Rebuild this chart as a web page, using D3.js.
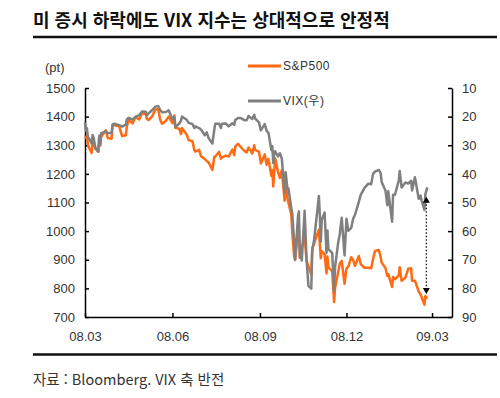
<!DOCTYPE html>
<html lang="ko">
<head>
    <meta charset="UTF-8">
    <title>VIX vs S&P500</title>
    <script src="https://cdn.jsdelivr.net/npm/d3@7"></script>
    <style>
        body { margin: 0; background: #fff; }
        svg { display: block; }
        .axis text { font: 13px "Liberation Sans", Arial, sans-serif; fill: #333; }
        .axis path, .axis line { stroke: #000; stroke-width: 1.5; }
    </style>
</head>
<body>
    <div id="chart"></div>
    <script>
        var width = 500, height = 398;
        var margin = { top: 88, right: 48, bottom: 81, left: 85 };

        // 날짜 / S&P500 / VIX
        var dates = ["2008-03-03", "2008-03-04", "2008-03-05", "2008-03-06", "2008-03-07", "2008-03-10", "2008-03-11", "2008-03-12", "2008-03-14",
            "2008-03-17", "2008-03-18", "2008-03-19", "2008-03-20", "2008-03-25", "2008-03-27", "2008-03-31", "2008-04-01", "2008-04-03",
            "2008-04-08", "2008-04-11", "2008-04-15", "2008-04-16", "2008-04-18", "2008-04-22", "2008-04-25", "2008-04-29", "2008-05-02",
            "2008-05-06", "2008-05-07", "2008-05-09", "2008-05-13", "2008-05-16", "2008-05-19", "2008-05-21", "2008-05-23", "2008-05-27",
            "2008-05-30", "2008-06-03", "2008-06-05", "2008-06-06", "2008-06-10", "2008-06-12", "2008-06-13", "2008-06-18", "2008-06-20",
            "2008-06-24", "2008-06-26", "2008-06-27", "2008-07-01", "2008-07-03", "2008-07-07", "2008-07-09", "2008-07-11", "2008-07-15",
            "2008-07-17", "2008-07-18", "2008-07-22", "2008-07-24", "2008-07-25", "2008-07-29", "2008-08-01", "2008-08-05", "2008-08-07",
            "2008-08-08", "2008-08-11", "2008-08-14", "2008-08-18", "2008-08-20", "2008-08-22", "2008-08-26", "2008-08-28", "2008-08-29",
            "2008-09-02", "2008-09-04", "2008-09-08", "2008-09-10", "2008-09-12", "2008-09-15", "2008-09-16", "2008-09-17", "2008-09-18",
            "2008-09-19", "2008-09-22", "2008-09-24", "2008-09-26", "2008-09-29", "2008-09-30", "2008-10-02", "2008-10-03", "2008-10-06",
            "2008-10-07", "2008-10-09", "2008-10-10", "2008-10-13", "2008-10-14", "2008-10-15", "2008-10-16", "2008-10-17", "2008-10-20",
            "2008-10-22", "2008-10-24", "2008-10-27", "2008-10-28", "2008-10-30", "2008-10-31", "2008-11-04", "2008-11-05", "2008-11-06",
            "2008-11-07", "2008-11-10", "2008-11-12", "2008-11-13", "2008-11-14", "2008-11-18", "2008-11-19", "2008-11-20", "2008-11-21",
            "2008-11-24", "2008-11-26", "2008-11-28", "2008-12-01", "2008-12-03", "2008-12-05", "2008-12-08", "2008-12-10", "2008-12-12",
            "2008-12-16", "2008-12-18", "2008-12-22", "2008-12-26", "2008-12-29", "2008-12-31", "2009-01-02", "2009-01-06", "2009-01-08",
            "2009-01-09", "2009-01-13", "2009-01-15", "2009-01-16", "2009-01-20", "2009-01-21", "2009-01-23", "2009-01-27", "2009-01-28",
            "2009-01-30", "2009-02-03", "2009-02-06", "2009-02-09", "2009-02-10", "2009-02-13", "2009-02-17", "2009-02-19", "2009-02-20",
            "2009-02-23", "2009-02-24", "2009-02-26"];

        var spx = [1331, 1326, 1333, 1304, 1293, 1273, 1321, 1308, 1288,
            1277, 1330, 1299, 1330, 1352, 1325, 1323, 1370, 1370,
            1366, 1332, 1335, 1365, 1390, 1376, 1398, 1390, 1413,
            1408, 1393, 1388, 1403, 1425, 1426, 1391, 1375, 1385,
            1400, 1377, 1404, 1361, 1358, 1339, 1360, 1337, 1318,
            1314, 1283, 1278, 1284, 1262, 1252, 1245, 1240, 1214,
            1260, 1260, 1277, 1253, 1257, 1264, 1260, 1285, 1266,
            1296, 1305, 1293, 1279, 1275, 1292, 1271, 1300, 1283,
            1278, 1236, 1268, 1232, 1252, 1193, 1214, 1156, 1207,
            1255, 1207, 1186, 1213, 1106, 1166, 1114, 1099, 1057,
            996, 910, 899, 1003, 998, 908, 946, 940, 986,
            896, 877, 848, 941, 954, 968, 1005, 953, 905,
            930, 920, 852, 911, 873, 859, 807, 752, 800,
            852, 887, 896, 816, 870, 876, 909, 899, 879,
            913, 885, 872, 872, 870, 903, 931, 934, 909,
            890, 871, 843, 850, 805, 840, 832, 845, 874,
            826, 838, 869, 870, 827, 827, 789, 778, 770,
            743, 773, 765];

        var vix = [22.0, 25.0, 24.0, 27.0, 27.5, 29.4, 26.4, 27.3, 31.0,
            32.2, 26.7, 29.8, 25.8, 25.2, 25.8, 25.6, 22.7, 22.5,
            23.0, 23.5, 22.8, 21.0, 20.4, 21.0, 20.1, 19.5, 18.2,
            18.3, 19.5, 18.9, 17.6, 16.5, 16.3, 17.6, 18.5, 18.4,
            17.8, 20.9, 20.2, 23.6, 22.5, 21.4, 20.0, 21.1, 22.2,
            22.6, 24.0, 23.4, 24.0, 24.5, 26.5, 25.5, 27.5, 29.4,
            24.5, 22.5, 22.5, 24.0, 22.5, 22.4, 23.4, 22.3, 22.9,
            21.2, 20.5, 20.5, 21.3, 21.3, 19.8, 20.8, 19.4, 20.7,
            22.0, 24.8, 22.6, 24.9, 25.7, 31.7, 30.3, 36.2, 33.1,
            32.1, 33.9, 32.8, 34.7, 46.7, 39.4, 45.3, 45.1, 52.0,
            53.7, 63.9, 69.9, 54.9, 53.1, 69.3, 67.6, 70.3, 52.9,
            69.7, 79.1, 80.1, 66.9, 62.9, 59.9, 47.7, 54.6, 63.7,
            56.1, 53.5, 67.6, 59.8, 66.3, 67.6, 74.3, 80.9, 72.7,
            64.7, 60.9, 55.3, 68.5, 55.7, 59.9, 58.9, 55.7, 54.3,
            49.8, 47.3, 44.9, 43.4, 43.6, 40.0, 39.2, 38.6, 39.8,
            42.8, 45.8, 51.0, 46.1, 56.7, 47.3, 47.3, 42.3, 39.0,
            44.8, 43.0, 43.4, 42.4, 45.8, 41.2, 48.7, 47.6, 49.3,
            52.6, 47.1, 44.7];

        var xTicks = ["2008-03-03", "2008-06-03", "2008-09-03", "2008-12-03", "2009-03-03"];
        var leftTicks = [700, 800, 900, 1000, 1100, 1200, 1300, 1400, 1500];
        var rightTicks = [10, 20, 30, 40, 50, 60, 70, 80, 90];
        var arrowDate = "2009-02-25", arrowVix = 48, arrowSpx = 780;

        var parse = d3.timeParse("%Y-%m-%d");
        var data = dates.map(function (d, i) { return { date: parse(d), spx: spx[i], vix: vix[i] }; });

        var x = d3.scaleTime()
            .domain([parse("2008-03-03"), parse("2009-03-24")])
            .range([margin.left, width - margin.right]);
        var yL = d3.scaleLinear().domain([700, 1500]).range([height - margin.bottom, margin.top]);
        // VIX 축 반전
        var yR = d3.scaleLinear().domain([90, 10]).range([height - margin.bottom, margin.top]);

        var svg = d3.select("#chart").append("svg")
            .attr("width", width)
            .attr("height", height);

        // 제목
        svg.append("text")
            .attr("x", 33).attr("y", 27)
            .style("font", "bold 18px 'Noto Sans CJK KR', sans-serif")
            .style("fill", "#111")
            .text("미 증시 하락에도 VIX 지수는 상대적으로 안정적");
        svg.append("line")
            .attr("x1", 33).attr("x2", 497).attr("y1", 37).attr("y2", 37)
            .style("stroke", "#111").style("stroke-width", 2.5);

        svg.append("line")
            .attr("x1", 33).attr("x2", 497).attr("y1", 354.5).attr("y2", 354.5)
            .style("stroke", "#111").style("stroke-width", 2.5);
        svg.append("text")
            .attr("x", 33).attr("y", 385)
            .style("font", "14.5px 'Noto Sans CJK KR', sans-serif")
            .style("fill", "#333")
            .text("자료 : Bloomberg. VIX 축 반전");

        svg.append("text")
            .attr("x", 45).attr("y", 72)
            .style("font", "13px 'Liberation Sans', Arial, sans-serif")
            .style("fill", "#333")
            .text("(pt)");

        // 축
        svg.append("g")
            .attr("class", "axis")
            .attr("transform", "translate(" + margin.left + ",0)")
            .call(d3.axisLeft(yL).tickValues(leftTicks).tickSizeInner(-4).tickSizeOuter(0).tickPadding(10).tickFormat(d3.format("d")));

        svg.append("g")
            .attr("class", "axis")
            .attr("transform", "translate(" + (width - margin.right) + ",0)")
            .call(d3.axisRight(yR).tickValues(rightTicks).tickSizeInner(-4).tickSizeOuter(0).tickPadding(10).tickFormat(d3.format("d")));

        svg.append("g")
            .attr("class", "axis")
            .attr("transform", "translate(0," + (height - margin.bottom) + ")")
            .call(d3.axisBottom(x).tickValues(xTicks.map(parse)).tickSizeInner(-4).tickSizeOuter(0).tickPadding(15).tickFormat(d3.timeFormat("%y.%m")));

        // 선
        var lineSpx = d3.line()
            .x(function (d) { return x(d.date); })
            .y(function (d) { return yL(d.spx); });
        var lineVix = d3.line()
            .x(function (d) { return x(d.date); })
            .y(function (d) { return yR(d.vix); });

        svg.append("path")
            .datum(data)
            .attr("d", lineSpx)
            .style("fill", "none").style("stroke", "#ff6a13").style("stroke-width", 2.5)
            .style("stroke-linejoin", "round");

        svg.append("path")
            .datum(data)
            .attr("d", lineVix)
            .style("fill", "none").style("stroke", "#808080").style("stroke-width", 2.5)
            .style("stroke-linejoin", "round");

        // 화살표
        var ax = x(parse(arrowDate)), aTop = yR(arrowVix), aBot = yL(arrowSpx);
        svg.append("line")
            .attr("x1", ax).attr("x2", ax).attr("y1", aTop + 4).attr("y2", aBot - 4)
            .style("stroke", "#000").style("stroke-width", 1.2).style("stroke-dasharray", "1.5,2");
        svg.append("path")
            .attr("d", "M" + ax + "," + aTop + "l-3.5,6h7z")
            .style("fill", "#000");
        svg.append("path")
            .attr("d", "M" + ax + "," + aBot + "l-3.5,-6h7z")
            .style("fill", "#000");

        // 범례
        var legend = [
            { name: "S&P500", color: "#ff6a13", y: 66 },
            { name: "VIX(우)", color: "#808080", y: 101 }
        ];
        var lg = svg.append("g").selectAll("g")
            .data(legend)
            .enter().append("g")
            .attr("transform", function (d) { return "translate(248," + d.y + ")"; });
        lg.append("line")
            .attr("x1", 0).attr("x2", 33)
            .style("stroke", function (d) { return d.color; })
            .style("stroke-width", 3);
        lg.append("text")
            .attr("x", 35).attr("dy", "0.35em")
            .style("font", "12px 'Liberation Sans', 'Noto Sans CJK KR', sans-serif")
            .style("letter-spacing", "0.5px")
            .style("fill", "#333")
            .text(function (d) { return d.name; });
    </script>
</body>
</html>
